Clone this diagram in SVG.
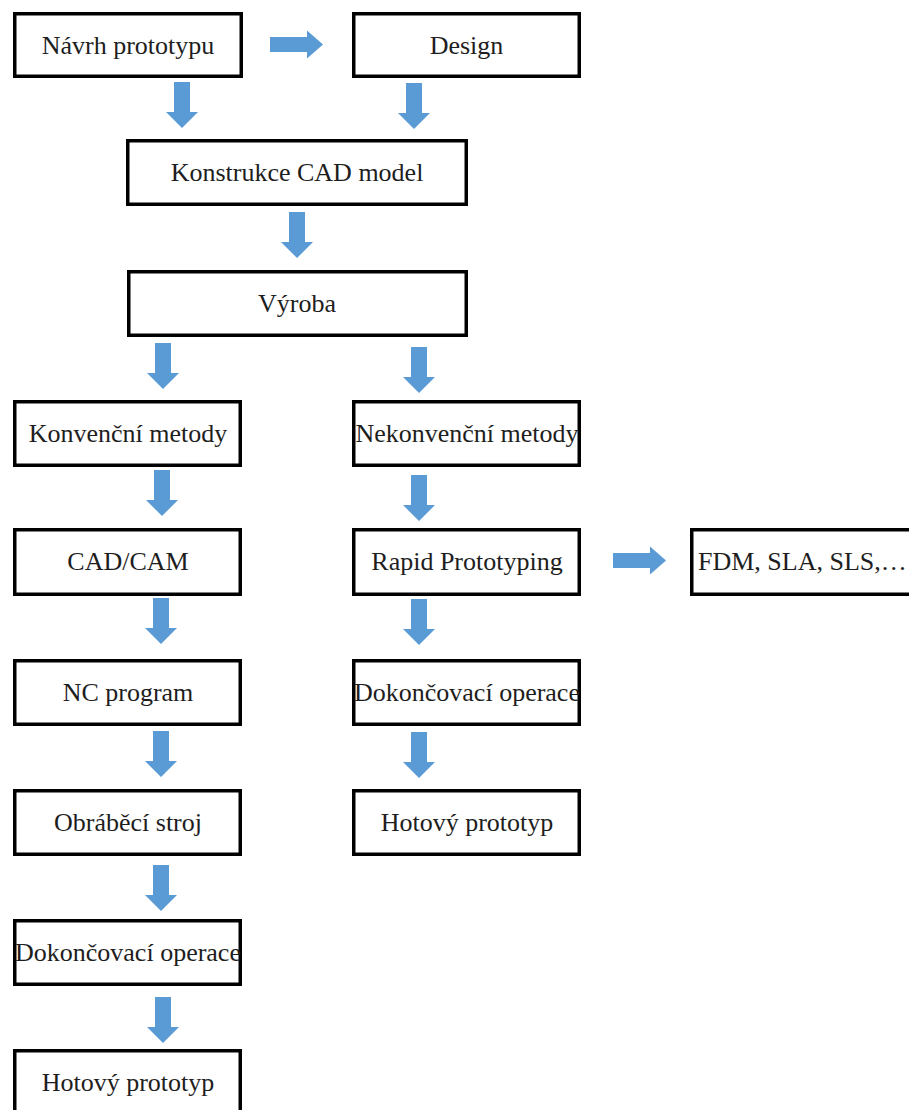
<svg xmlns="http://www.w3.org/2000/svg" xmlns:xlink="http://www.w3.org/1999/xlink" width="909" height="1110" viewBox="0 0 909 1110">
<style>
.box{fill:#fff;stroke:#000;stroke-width:3.5}
.lbl{font-family:"Liberation Serif","Times New Roman",serif;font-size:26px;fill:#1e1e1e;text-anchor:middle}
.arr{fill:#5B9BD5}
</style>
<defs>
<path id="ad" d="M-8,0 H8 V30 H16 L0,46 L-16,30 H-8 Z"/>
<path id="ar" d="M0,-7.5 H37 V-14 L53,0 L37,14 V7.5 H0 Z"/>
</defs>
<rect width="909" height="1110" fill="#fff"/>
<g id="connectors" class="arr">
<use href="#ar" x="270" y="44.5"/>
<use href="#ad" x="182" y="82"/>
<use href="#ad" x="414" y="83"/>
<use href="#ad" x="297" y="212"/>
<use href="#ad" x="163" y="343"/>
<use href="#ad" x="419" y="347"/>
<use href="#ad" x="162" y="470"/>
<use href="#ad" x="419" y="475"/>
<use href="#ar" x="613" y="560.5"/>
<use href="#ad" x="161" y="598"/>
<use href="#ad" x="419" y="599"/>
<use href="#ad" x="161" y="731"/>
<use href="#ad" x="419" y="732"/>
<use href="#ad" x="161" y="865"/>
<use href="#ad" x="163" y="997"/>
</g>
<g id="n-navrh"><rect class="box" x="14.75" y="13.75" width="226.5" height="62.5"/><text class="lbl" x="128" y="53.5">Návrh prototypu</text></g>
<g id="n-design"><rect class="box" x="353.75" y="13.75" width="225.5" height="62.5"/><text class="lbl" x="466.5" y="53.5">Design</text></g>
<g id="n-konstrukce"><rect class="box" x="127.75" y="140.75" width="338.5" height="63.5"/><text class="lbl" x="297" y="181">Konstrukce CAD model</text></g>
<g id="n-vyroba"><rect class="box" x="128.75" y="271.75" width="337.5" height="63.5"/><text class="lbl" x="297" y="312">Výroba</text></g>
<g id="n-konv"><rect class="box" x="14.75" y="401.75" width="225.5" height="63.5"/><text class="lbl" x="128" y="442">Konvenční metody</text></g>
<g id="n-nekonv"><rect class="box" x="353.75" y="401.75" width="225.5" height="63.5"/><text class="lbl" x="467" y="442">Nekonvenční metody</text></g>
<g id="n-cadcam"><rect class="box" x="14.75" y="529.75" width="225.5" height="64.5"/><text class="lbl" x="128" y="570">CAD/CAM</text></g>
<g id="n-rapid"><rect class="box" x="353.75" y="529.75" width="225.5" height="64.5"/><text class="lbl" x="467" y="570">Rapid Prototyping</text></g>
<g id="n-fdm"><rect class="box" x="691.75" y="529.75" width="225" height="64.5"/><text class="lbl" x="698" y="570" style="text-anchor:start">FDM, SLA, SLS,…</text></g>
<g id="n-nc"><rect class="box" x="14.75" y="660.75" width="225.5" height="63.5"/><text class="lbl" x="128" y="701">NC program</text></g>
<g id="n-dok-r"><rect class="box" x="353.75" y="660.75" width="225.5" height="63.5"/><text class="lbl" x="467" y="701">Dokončovací operace</text></g>
<g id="n-obr"><rect class="box" x="14.75" y="790.75" width="225.5" height="63.5"/><text class="lbl" x="128" y="831">Obráběcí stroj</text></g>
<g id="n-hot-r"><rect class="box" x="353.75" y="790.75" width="225.5" height="63.5"/><text class="lbl" x="467" y="831">Hotový prototyp</text></g>
<g id="n-dok-l"><rect class="box" x="14.75" y="920.75" width="225.5" height="63.5"/><text class="lbl" x="128" y="961">Dokončovací operace</text></g>
<g id="n-hot-l"><rect class="box" x="14.75" y="1050.75" width="225.5" height="70"/><text class="lbl" x="128" y="1091">Hotový prototyp</text></g>
</svg>
